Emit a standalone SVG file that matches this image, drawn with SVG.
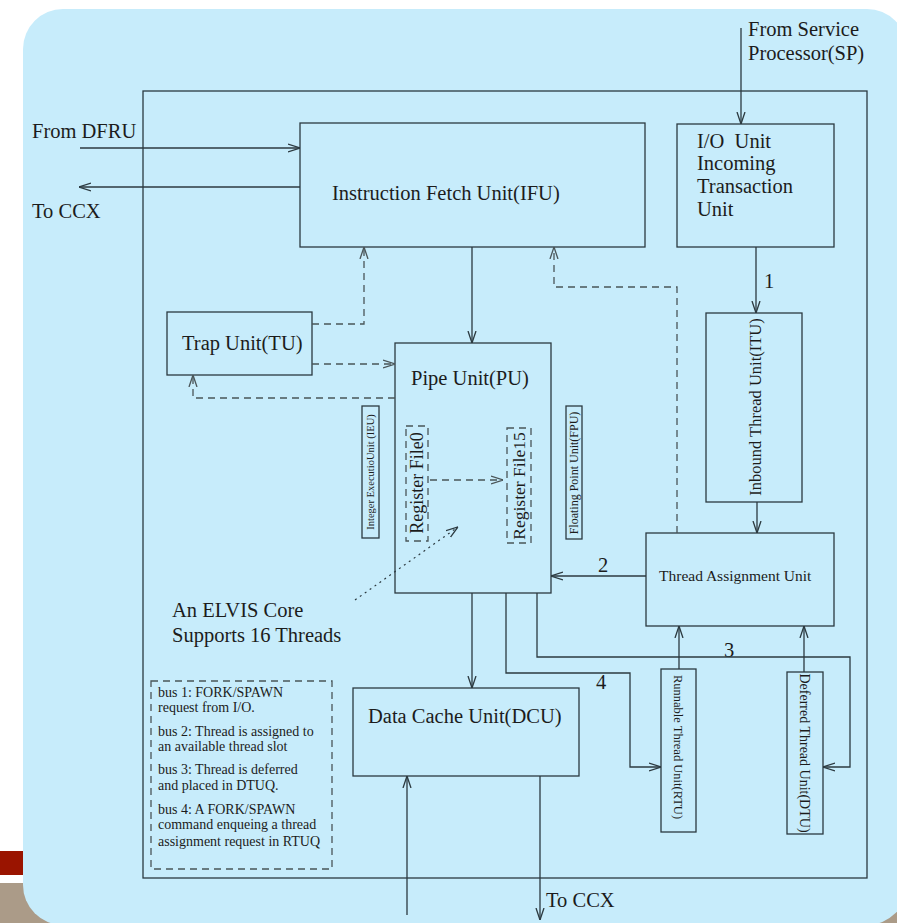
<svg xmlns="http://www.w3.org/2000/svg" width="897" height="923" viewBox="0 0 897 923">
<style>
.t{font-family:"Liberation Serif","Times New Roman",serif;fill:#1c1c1c}
.m{font-size:20.5px}
.box{fill:none;stroke:#2c3a40;stroke-width:1.3}
.ln{fill:none;stroke:#2c3a40;stroke-width:1.3}
.da{fill:none;stroke:#4a5558;stroke-width:1.3;stroke-dasharray:7,5}
.ar{marker-end:url(#ah)}
.ard{marker-end:url(#ahd)}
</style>
<defs>
<marker id="ah" markerUnits="userSpaceOnUse" viewBox="0 0 12 10" refX="12" refY="5" markerWidth="12" markerHeight="10" orient="auto">
<path d="M0,1 L12,5 L0,9" fill="none" stroke="#2c3a40" stroke-width="1.3"/>
</marker>
<marker id="ahd" markerUnits="userSpaceOnUse" viewBox="0 0 12 10" refX="12" refY="5" markerWidth="12" markerHeight="10" orient="auto">
<path d="M0,1 L12,5 L0,9" fill="none" stroke="#4a5558" stroke-width="1.3"/>
</marker>
</defs>
<rect x="0" y="0" width="897" height="923" fill="#ffffff"/>
<rect x="0" y="883" width="897" height="40" fill="#ab9b88"/>
<rect x="0" y="851" width="23" height="24" fill="#9a1400"/>
<rect x="23" y="9" width="884" height="916" rx="40" ry="40" fill="#c7ecfb"/>

<g id="main-frame"><rect class="box" x="143" y="91" width="724" height="787"/></g>

<g id="ifu"><rect class="box" x="300" y="123" width="345" height="124"/>
<text class="t m" x="332" y="200">Instruction Fetch Unit(IFU)</text></g>

<g id="io-unit"><rect class="box" x="677" y="124" width="157" height="123"/>
<text class="t m" x="697" y="148" xml:space="preserve">I/O  Unit</text>
<text class="t m" x="697" y="170">Incoming</text>
<text class="t m" x="697" y="193">Transaction</text>
<text class="t m" x="697" y="216">Unit</text></g>

<g id="itu"><rect class="box" x="706" y="313" width="96" height="189"/>
<text class="t" font-size="16.5" text-anchor="middle" transform="translate(761,407) rotate(-90)">Inbound Thread Unit(ITU)</text></g>

<g id="tau"><rect class="box" x="646" y="533" width="188" height="93"/>
<text class="t" font-size="15.5" x="659" y="581">Thread Assignment Unit</text></g>

<g id="tu"><rect class="box" x="167" y="312" width="145" height="63"/>
<text class="t m" x="182" y="350">Trap Unit(TU)</text></g>

<g id="pu"><rect class="box" x="395" y="343" width="156" height="250"/>
<text class="t m" x="411" y="385">Pipe Unit(PU)</text></g>

<g id="ieu"><rect class="box" x="362" y="406" width="17" height="132"/>
<text class="t" font-size="10.5" text-anchor="middle" transform="translate(374,472) rotate(-90)">Integer ExecutioUnit (IEU)</text></g>

<g id="fpu"><rect class="box" x="566" y="406" width="16" height="133"/>
<text class="t" font-size="12" text-anchor="middle" transform="translate(578,473) rotate(-90)">Floating Point Unit(FPU)</text></g>

<g id="rf0"><rect class="da" x="406" y="426" width="22" height="115"/>
<text class="t" font-size="18" text-anchor="middle" transform="translate(423,483) rotate(-90)">Register File0</text></g>

<g id="rf15"><rect class="da" x="507" y="428" width="24" height="115"/>
<text class="t" font-size="17.5" text-anchor="middle" transform="translate(525,486) rotate(-90)">Register File15</text></g>

<g id="dcu"><rect class="box" x="353" y="688" width="226" height="88"/>
<text class="t m" x="368" y="723">Data Cache Unit(DCU)</text></g>

<g id="rtu"><rect class="box" x="661" y="669" width="35" height="163"/>
<text class="t" font-size="12.5" text-anchor="middle" transform="translate(674,747) rotate(90)">Runnable Thread Unit(RTU)</text></g>

<g id="dtu"><rect class="box" x="787" y="672" width="36" height="162"/>
<text class="t" font-size="14" text-anchor="middle" transform="translate(800,753) rotate(90)">Deferred Thread Unit(DTU)</text></g>

<g id="legend"><rect class="da" x="151" y="681" width="181" height="188"/>
<g class="t" font-size="14">
<text x="158" y="697">bus 1: FORK/SPAWN</text>
<text x="158" y="712">request from I/O.</text>
<text x="158" y="736">bus 2: Thread is assigned to</text>
<text x="158" y="751">an available thread slot</text>
<text x="158" y="774">bus 3: Thread is deferred</text>
<text x="158" y="790">and placed in DTUQ.</text>
<text x="158" y="814">bus 4: A FORK/SPAWN</text>
<text x="158" y="829">command enqueing a thread</text>
<text x="158" y="846">assignment request in RTUQ</text>
</g></g>

<g id="labels" class="t m">
<text x="32" y="138">From DFRU</text>
<text x="32" y="218">To CCX</text>
<text x="748" y="36">From Service</text>
<text x="748" y="60">Processor(SP)</text>
<text x="172" y="617">An ELVIS Core</text>
<text x="172" y="642">Supports 16 Threads</text>
<text x="546" y="907">To CCX</text>
<text x="764" y="288">1</text>
<text x="598" y="572">2</text>
<text x="724" y="657">3</text>
<text x="596" y="689">4</text>
</g>

<g id="connectors">
<path class="ln ar" d="M80,148 H300"/>
<path class="ln ar" d="M300,187 H79"/>
<path class="ln ar" d="M741,28 V124"/>
<path class="ln ar" d="M756,247 V313"/>
<path class="ln ar" d="M757,502 V533"/>
<path class="ln ar" d="M472,247 V343"/>
<path class="ln ar" d="M646,576 H551"/>
<path class="ln ar" d="M472,593 V688"/>
<path class="ln ar" d="M407,915 V776"/>
<path class="ln ar" d="M540,776 V920"/>
<path class="ln ar" d="M537,593 V657 H850 V767 H823"/>
<path class="ln ar" d="M506,593 V673 H630 V767 H661"/>
<path class="ln ar" d="M679,669 V626"/>
<path class="ln ar" d="M804,672 V626"/>
<path class="da ard" d="M677,533 V287 H554 V247"/>
<path class="da ard" d="M312,324 H364 V247"/>
<path class="da ard" d="M312,364 H395"/>
<path class="da ard" d="M395,398 H193 V375"/>
<path class="da ard" d="M430,480 H503"/>
<path fill="none" stroke="#2c3a40" stroke-width="1.2" stroke-dasharray="2,4" marker-end="url(#ah)" d="M355,600 L458,527"/>
</g>
</svg>
